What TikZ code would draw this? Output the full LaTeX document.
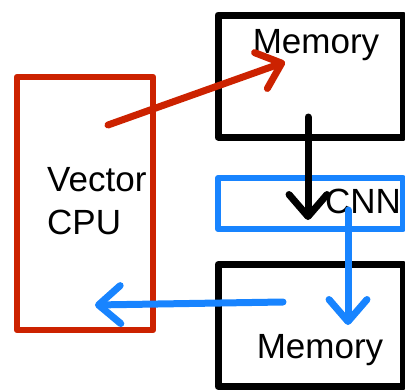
\documentclass[tikz,border=0pt]{standalone}
\usepackage{fontspec}
\setmainfont{Liberation Sans}
\usepackage{xcolor}
\usetikzlibrary{arrows.meta}
\definecolor{cpured}{RGB}{204,34,0}
\definecolor{cnnblue}{RGB}{24,132,255}

\begin{document}
\begin{tikzpicture}[
    x=1pt, y=-1pt,
    every node/.style={font=\fontsize{35}{43}\selectfont, inner sep=0pt},
    box/.style={rectangle, draw, line cap=round, line join=round, inner sep=0pt},
    cpubox/.style={box, draw=cpured, line width=6.5pt, minimum width=136pt, minimum height=253pt},
    membox/.style={box, draw=black, line width=7pt, minimum width=185pt, minimum height=122pt},
    cnnbox/.style={box, draw=cnnblue, line width=6pt, minimum width=185pt, minimum height=51pt},
    flow/.style={line width=7pt, line cap=round, -{Straight Barb[length=22pt, width=38pt, round]}}
]
\useasboundingbox (0,0) rectangle (405,389);

% ════════════════════════════════════════
% BOXES
% ════════════════════════════════════════
\node[cpubox] (cpu)  at (85,203.5)    {};
\node[membox] (mem1) at (310.5,76)    {};
\node[cnnbox] (cnn)  at (310.5,203.5) {};
\node[membox] (mem2) at (310.5,325.5) {};

% ── labels ──
\node[anchor=north west, align=left] (cpulabel) at (47,167) {Vector\\CPU};
\node[anchor=base] (mem1label) at (316,53)  {Memory};
\node[anchor=base west] (cnnlabel) at (325,213) {CNN};
\node[anchor=base] (mem2label) at (320,358) {Memory};

% ── arrow ends ──
\coordinate (cpuout)  at (108,125);
\coordinate (mem1in)  at (285,62);
\coordinate (mem1out) at (308,117);
\coordinate (cnnin)   at (308,220);
\coordinate (cnnout)  at (348,210);
\coordinate (mem2in)  at (348,325);
\coordinate (mem2out) at (283,302);
\coordinate (cpuin)   at (95,305);

% ════════════════════════════════════════
% ARROWS
% ════════════════════════════════════════
\draw[flow, cpured]   (cpuout)  -- (mem1in);
\draw[flow, black]    (mem1out) -- (cnnin);
\draw[flow, cnnblue]  (cnnout)  -- (mem2in);
\draw[flow, cnnblue]  (mem2out) -- (cpuin);

\end{tikzpicture}
\end{document}
